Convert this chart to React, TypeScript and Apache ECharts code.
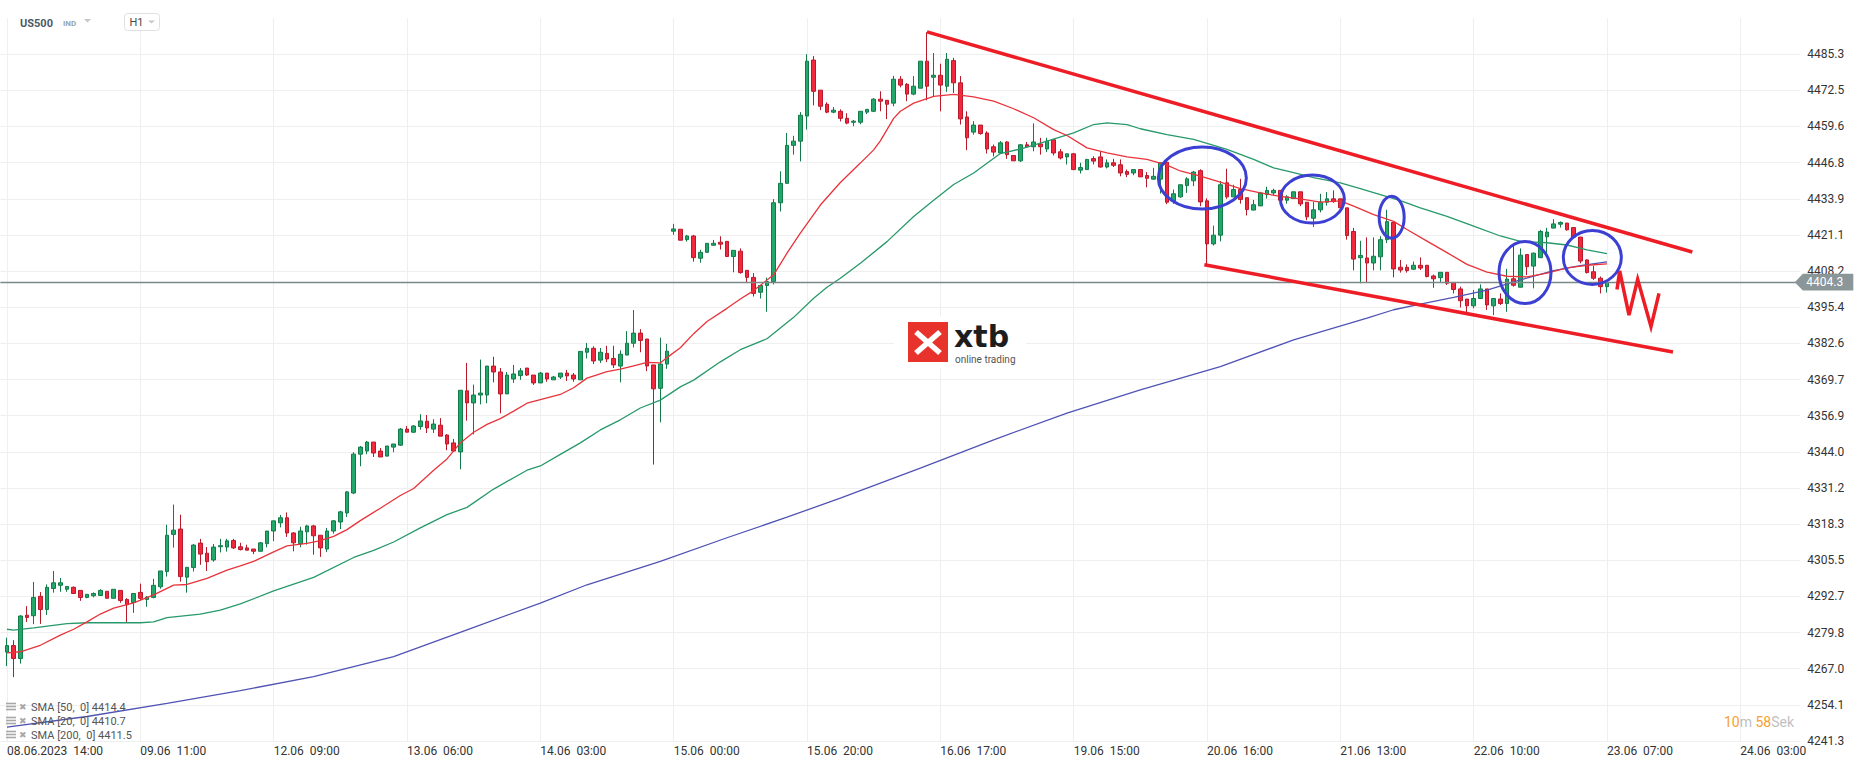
import { useEffect, useRef } from 'react';
import * as echarts from 'echarts';

// ---------- data ----------
const X_LABELS = [
  '08.06.2023  14:00', '09.06  11:00', '12.06  09:00', '13.06  06:00', '14.06  03:00',
  '15.06  00:00', '15.06  20:00', '16.06  17:00', '19.06  15:00', '20.06  16:00',
  '21.06  13:00', '22.06  10:00', '23.06  07:00', '24.06  03:00',
];
const LABEL_EVERY = 20; // hourly candles between two time labels
const SLOT_COUNT = 270; // hourly slots shown on the axis (candles + future space)

const Y_TICKS = [
  '4241.3', '4254.1', '4267.0', '4279.8', '4292.7', '4305.5', '4318.3', '4331.2', '4344.0', '4356.9',
  '4369.7', '4382.6', '4395.4', '4408.2', '4421.1', '4433.9', '4446.8', '4459.6', '4472.5', '4485.3',
];
const Y_MIN = 4241.3;
const Y_STEP = (4485.3 - 4241.3) / 19;

// [open, close, low, high]
const CANDLES: number[][] = [
  [4272.9, 4275.2, 4267.9, 4278.0], [4275.2, 4270.6, 4264.0, 4277.1], [4270.6, 4285.7, 4268.8, 4286.0], [4286.0, 4285.2, 4283.6, 4289.2],
  [4285.8, 4292.3, 4282.8, 4297.8], [4292.7, 4288.0, 4282.9, 4294.2], [4288.0, 4295.9, 4286.1, 4296.9], [4295.5, 4297.5, 4294.0, 4301.7],
  [4296.6, 4297.5, 4294.3, 4299.2], [4295.2, 4296.2, 4294.3, 4296.2], [4295.9, 4293.7, 4293.5, 4296.2], [4294.8, 4292.3, 4291.1, 4294.8],
  [4292.3, 4293.4, 4292.0, 4293.4], [4292.9, 4293.7, 4292.3, 4294.1], [4293.0, 4294.8, 4292.8, 4295.2], [4294.5, 4292.0, 4292.0, 4294.5],
  [4292.0, 4295.2, 4292.0, 4295.2], [4294.8, 4291.2, 4290.4, 4294.8], [4291.6, 4289.7, 4283.6, 4292.0], [4290.5, 4293.7, 4286.8, 4293.7],
  [4294.1, 4292.0, 4291.4, 4297.2], [4291.6, 4292.4, 4289.0, 4292.8], [4292.3, 4296.6, 4292.0, 4298.9], [4296.1, 4301.7, 4295.4, 4301.7],
  [4301.5, 4314.4, 4299.7, 4318.1], [4314.7, 4316.2, 4310.0, 4325.3], [4316.6, 4299.7, 4297.9, 4321.7], [4299.5, 4303.0, 4294.0, 4303.0],
  [4302.9, 4310.9, 4301.5, 4311.3], [4311.6, 4307.7, 4303.9, 4313.1], [4308.0, 4305.0, 4301.7, 4310.2], [4305.6, 4310.2, 4305.0, 4311.3],
  [4310.3, 4310.7, 4308.3, 4313.1], [4310.2, 4312.4, 4308.6, 4313.1], [4312.5, 4309.9, 4309.5, 4313.1], [4310.3, 4309.3, 4309.0, 4311.7],
  [4309.9, 4309.1, 4309.0, 4311.0], [4309.5, 4308.7, 4307.7, 4309.5], [4308.7, 4311.7, 4308.7, 4312.0], [4311.4, 4315.9, 4310.1, 4315.9],
  [4315.9, 4319.5, 4312.3, 4319.5], [4318.8, 4320.6, 4317.2, 4321.6], [4320.6, 4315.2, 4313.8, 4322.5], [4315.2, 4311.7, 4308.7, 4315.5],
  [4311.4, 4315.9, 4310.1, 4317.4], [4315.6, 4317.7, 4311.1, 4318.1], [4317.7, 4314.2, 4307.5, 4318.1], [4314.4, 4309.9, 4306.7, 4314.4],
  [4309.5, 4315.9, 4308.4, 4317.0], [4315.9, 4319.5, 4315.0, 4319.8], [4319.1, 4322.7, 4316.6, 4323.1], [4322.3, 4329.8, 4320.9, 4330.1],
  [4329.4, 4343.2, 4329.0, 4343.9], [4343.2, 4345.7, 4338.9, 4346.1], [4344.3, 4347.5, 4343.2, 4347.9], [4347.5, 4343.6, 4342.2, 4347.5],
  [4344.3, 4342.2, 4342.2, 4345.4], [4342.5, 4346.1, 4342.5, 4346.1], [4345.7, 4346.8, 4343.9, 4346.8], [4346.4, 4352.1, 4346.1, 4352.5],
  [4352.1, 4351.0, 4351.0, 4353.2], [4351.0, 4353.2, 4350.7, 4353.5], [4353.0, 4355.0, 4351.9, 4357.4], [4354.9, 4352.5, 4350.7, 4357.1],
  [4352.1, 4353.9, 4350.7, 4355.6], [4353.5, 4349.6, 4349.6, 4356.0], [4350.0, 4346.8, 4344.6, 4350.3], [4347.2, 4344.3, 4344.0, 4348.6],
  [4344.0, 4365.9, 4337.8, 4365.9], [4365.7, 4361.4, 4355.1, 4375.6], [4361.4, 4364.2, 4350.2, 4367.9], [4364.2, 4364.9, 4360.9, 4376.8],
  [4364.2, 4374.5, 4361.3, 4374.5], [4374.5, 4372.4, 4368.7, 4377.8], [4372.4, 4364.6, 4357.7, 4373.8], [4364.6, 4371.3, 4364.6, 4372.4],
  [4369.9, 4371.7, 4368.5, 4374.9], [4371.1, 4372.8, 4369.6, 4373.8], [4373.8, 4371.3, 4371.0, 4373.8], [4371.3, 4368.5, 4367.8, 4371.3],
  [4368.5, 4372.0, 4368.5, 4372.4], [4372.0, 4369.9, 4368.9, 4372.0], [4369.6, 4370.6, 4369.6, 4371.0], [4370.6, 4372.0, 4369.9, 4372.0],
  [4372.0, 4371.0, 4369.2, 4373.1], [4371.3, 4369.9, 4368.9, 4372.0], [4369.6, 4379.7, 4369.6, 4379.7], [4379.4, 4380.8, 4377.2, 4382.7],
  [4380.8, 4376.3, 4375.2, 4381.5], [4376.6, 4379.4, 4375.6, 4380.9], [4379.0, 4377.0, 4375.9, 4381.7], [4377.2, 4374.9, 4373.8, 4381.7],
  [4374.5, 4378.7, 4368.7, 4380.1], [4378.4, 4382.6, 4378.4, 4386.9], [4382.6, 4386.2, 4381.1, 4394.4], [4386.2, 4383.6, 4379.4, 4387.6],
  [4384.1, 4374.5, 4372.7, 4384.1], [4374.9, 4366.4, 4339.5, 4374.9], [4366.6, 4375.2, 4354.5, 4384.6], [4375.2, 4379.8, 4373.5, 4382.4],
  [4422.4, 4423.2, 4421.1, 4425.0], [4423.1, 4419.2, 4419.2, 4423.1], [4419.4, 4420.7, 4418.7, 4421.1], [4420.7, 4413.0, 4411.6, 4421.1],
  [4412.8, 4414.9, 4411.2, 4415.8], [4414.9, 4418.1, 4414.9, 4418.1], [4417.4, 4418.1, 4417.3, 4419.3], [4418.5, 4417.8, 4415.9, 4420.6],
  [4418.8, 4413.4, 4413.4, 4418.8], [4413.4, 4415.6, 4407.8, 4415.6], [4415.3, 4407.7, 4407.3, 4416.3], [4408.5, 4406.0, 4404.1, 4408.5],
  [4406.0, 4400.3, 4399.2, 4407.5], [4400.7, 4403.1, 4398.5, 4403.1], [4403.1, 4404.5, 4393.8, 4405.9], [4404.5, 4432.5, 4403.5, 4433.8],
  [4432.5, 4439.4, 4429.4, 4443.7], [4439.4, 4452.9, 4439.4, 4457.3], [4452.9, 4454.4, 4449.6, 4456.3], [4454.4, 4463.6, 4447.2, 4464.7],
  [4463.3, 4482.8, 4458.5, 4485.3], [4483.2, 4472.1, 4467.1, 4484.6], [4472.5, 4466.8, 4465.4, 4472.5], [4467.5, 4464.7, 4464.3, 4468.2],
  [4464.7, 4465.4, 4464.3, 4466.5], [4465.0, 4462.5, 4461.4, 4465.7], [4462.5, 4460.8, 4460.4, 4464.3], [4461.1, 4461.5, 4459.7, 4461.9],
  [4461.1, 4465.0, 4460.4, 4465.0], [4464.7, 4465.7, 4464.0, 4465.7], [4465.0, 4469.3, 4464.7, 4469.7], [4469.3, 4468.6, 4465.0, 4472.1],
  [4468.9, 4467.5, 4462.2, 4468.9], [4467.9, 4476.4, 4466.8, 4477.6], [4476.4, 4474.3, 4473.5, 4477.5], [4474.6, 4471.1, 4468.6, 4475.0],
  [4471.1, 4473.9, 4470.7, 4477.5], [4473.2, 4482.8, 4473.2, 4482.8], [4482.8, 4473.9, 4468.9, 4493.1], [4477.1, 4477.8, 4470.4, 4485.7],
  [4477.8, 4474.3, 4465.0, 4481.9], [4473.9, 4483.5, 4471.9, 4485.7], [4483.0, 4475.1, 4471.5, 4484.0], [4475.1, 4462.3, 4460.3, 4477.5],
  [4463.0, 4455.6, 4451.2, 4465.0], [4457.6, 4460.1, 4456.7, 4461.5], [4460.1, 4457.1, 4456.7, 4460.1], [4457.3, 4451.6, 4450.0, 4457.9],
  [4452.4, 4450.5, 4449.0, 4453.2], [4450.2, 4453.8, 4450.0, 4454.4], [4454.1, 4449.6, 4448.1, 4454.4], [4449.3, 4447.4, 4447.4, 4449.3],
  [4447.4, 4453.1, 4447.0, 4453.4], [4453.1, 4452.4, 4452.0, 4454.1], [4452.4, 4454.1, 4450.8, 4460.7], [4453.4, 4452.4, 4449.6, 4455.6],
  [4451.6, 4454.4, 4450.5, 4455.6], [4454.9, 4450.2, 4449.3, 4455.2], [4450.6, 4448.4, 4447.9, 4451.6], [4448.8, 4449.9, 4446.1, 4449.9],
  [4449.9, 4444.3, 4444.1, 4450.2], [4444.1, 4445.0, 4442.9, 4446.7], [4444.3, 4447.9, 4444.3, 4447.9], [4448.2, 4447.3, 4446.1, 4449.0],
  [4448.8, 4445.2, 4445.0, 4450.6], [4445.2, 4446.7, 4444.7, 4447.9], [4446.7, 4445.8, 4445.2, 4448.1], [4446.0, 4443.1, 4441.9, 4447.9],
  [4443.6, 4442.6, 4441.6, 4444.3], [4443.1, 4444.3, 4442.3, 4444.3], [4444.3, 4441.7, 4441.7, 4444.3], [4442.2, 4441.2, 4438.0, 4443.4],
  [4440.9, 4441.9, 4440.7, 4444.9], [4440.9, 4446.7, 4435.8, 4446.7], [4446.9, 4432.7, 4432.0, 4447.5], [4433.1, 4435.7, 4432.1, 4437.2],
  [4434.6, 4438.9, 4434.3, 4438.9], [4438.6, 4441.0, 4436.0, 4441.6], [4440.3, 4443.4, 4438.4, 4443.8], [4443.9, 4432.8, 4431.3, 4444.4],
  [4433.2, 4417.9, 4410.4, 4434.1], [4417.9, 4421.0, 4417.3, 4424.4], [4421.0, 4438.9, 4418.8, 4440.2], [4439.6, 4434.6, 4433.9, 4444.6],
  [4434.6, 4437.2, 4434.6, 4438.9], [4437.2, 4433.7, 4432.2, 4441.0], [4434.3, 4430.1, 4428.0, 4434.3], [4429.9, 4431.8, 4429.9, 4433.5],
  [4431.4, 4436.0, 4431.4, 4436.4], [4435.4, 4436.9, 4434.0, 4438.2], [4436.0, 4436.9, 4435.1, 4437.5], [4436.9, 4433.4, 4433.4, 4436.9],
  [4433.4, 4434.6, 4432.2, 4435.2], [4434.0, 4436.4, 4433.9, 4436.4], [4436.4, 4432.1, 4431.3, 4436.4], [4432.7, 4427.5, 4426.3, 4432.7],
  [4427.0, 4430.0, 4423.9, 4432.8], [4430.0, 4432.7, 4429.1, 4435.7], [4432.7, 4433.9, 4431.5, 4436.3], [4433.9, 4432.9, 4432.5, 4436.9],
  [4433.9, 4430.7, 4430.7, 4433.9], [4430.7, 4420.9, 4419.4, 4430.7], [4422.3, 4412.5, 4408.5, 4423.6], [4413.0, 4413.8, 4403.9, 4419.0],
  [4412.9, 4411.1, 4404.0, 4420.2], [4411.1, 4413.5, 4408.5, 4420.2], [4413.3, 4419.4, 4408.5, 4420.6], [4419.4, 4425.8, 4418.2, 4430.0],
  [4425.5, 4409.0, 4406.0, 4425.7], [4409.6, 4408.6, 4407.7, 4412.2], [4409.6, 4408.4, 4407.7, 4410.6], [4408.9, 4410.3, 4408.6, 4411.6],
  [4410.3, 4409.3, 4408.6, 4413.1], [4410.3, 4406.3, 4406.0, 4410.3], [4406.5, 4405.5, 4402.3, 4407.0], [4405.9, 4407.8, 4404.1, 4407.8],
  [4407.8, 4403.9, 4403.3, 4407.8], [4404.2, 4401.7, 4400.3, 4404.2], [4401.9, 4397.7, 4395.3, 4402.7], [4398.3, 4395.9, 4393.5, 4398.3],
  [4395.9, 4398.5, 4395.0, 4401.5], [4398.5, 4401.9, 4398.3, 4403.5], [4401.9, 4396.2, 4394.4, 4401.9], [4395.9, 4398.5, 4392.6, 4398.5],
  [4398.3, 4396.7, 4396.2, 4400.3], [4396.7, 4405.4, 4393.8, 4409.0], [4405.5, 4403.2, 4402.7, 4418.1], [4402.5, 4413.9, 4402.5, 4416.3],
  [4414.1, 4409.8, 4406.8, 4414.1], [4410.0, 4414.6, 4402.1, 4414.8], [4413.0, 4422.3, 4413.0, 4422.9], [4420.4, 4422.1, 4413.4, 4423.6],
  [4423.5, 4425.0, 4423.5, 4426.7], [4424.9, 4425.5, 4423.7, 4425.9], [4425.3, 4422.9, 4422.6, 4425.3], [4423.7, 4420.3, 4419.9, 4423.7],
  [4420.3, 4411.8, 4411.0, 4420.3], [4412.2, 4407.7, 4407.4, 4412.4], [4408.0, 4405.7, 4405.1, 4410.1], [4405.7, 4402.7, 4400.3, 4406.3],
  [4402.7, 4404.3, 4400.6, 4405.0],
];

// moving averages: [candle index, value]
const SMA20: number[][] = [
  [0, 4272.6], [2, 4273.0], [5, 4275.3], [8, 4278.9], [10, 4281.0], [12, 4283.6], [14, 4286.4], [16, 4288.5], [19, 4290.4],
  [22, 4293.2], [25, 4296.7], [27, 4296.9], [30, 4299.1], [33, 4302.0], [35, 4303.5], [37, 4305.1], [40, 4308.5], [42, 4310.6],
  [45, 4311.5], [47, 4312.5], [49, 4314.0], [51, 4316.4], [53, 4319.6], [56, 4324.0], [59, 4328.5], [61, 4331.0], [64, 4337.5],
  [66, 4341.5], [68, 4347.2], [70, 4351.0], [72, 4353.8], [74, 4355.8], [76, 4358.5], [78, 4361.3], [80, 4362.6], [83, 4364.4],
  [85, 4366.8], [87, 4370.2], [90, 4372.5], [92, 4373.4], [94, 4374.6], [96, 4375.8], [98, 4375.6], [99, 4377.5], [101, 4381.0],
  [103, 4386.0], [105, 4390.3], [108, 4395.0], [110, 4398.3], [112, 4401.3], [115, 4406.9], [117, 4414.6], [119, 4421.7],
  [122, 4431.7], [125, 4439.7], [128, 4446.6], [130, 4451.3], [131, 4454.5], [132, 4458.5], [133, 4462.5], [134, 4465.0],
  [136, 4467.9], [139, 4470.3], [142, 4471.0], [145, 4470.1], [148, 4468.6], [151, 4465.9], [154, 4462.7], [157, 4458.5],
  [159, 4456.4], [162, 4452.0], [165, 4450.2], [168, 4448.8], [171, 4447.9], [174, 4445.9], [176, 4443.8], [179, 4442.0],
  [182, 4439.8], [185, 4437.5], [188, 4436.0], [191, 4434.8], [194, 4433.9], [197, 4432.7], [200, 4433.2], [202, 4431.3],
  [205, 4428.3], [208, 4425.9], [210, 4423.0], [213, 4418.9], [216, 4414.8], [219, 4410.6], [222, 4407.9], [225, 4406.4],
  [228, 4406.2], [231, 4407.5], [234, 4409.4], [237, 4410.3], [240, 4410.8],
];
const SMA50: number[][] = [
  [0, 4281.0], [1, 4280.7], [4, 4281.5], [9, 4283.0], [12, 4283.3], [20, 4283.3], [22, 4283.6], [24, 4285.1], [29, 4286.4],
  [32, 4287.8], [35, 4290.0], [40, 4294.6], [46, 4299.4], [52, 4306.5], [55, 4309.0], [58, 4312.0], [62, 4317.0], [66, 4321.7],
  [69, 4324.3], [73, 4330.8], [78, 4337.5], [80, 4339.0], [83, 4343.1], [86, 4347.2], [89, 4351.8], [92, 4355.4], [95, 4359.6],
  [98, 4362.4], [101, 4367.1], [103, 4369.5], [107, 4376.0], [110, 4380.3], [114, 4384.2], [116, 4388.0], [118, 4391.8],
  [121, 4398.6], [123, 4402.5], [125, 4405.7], [128, 4411.0], [132, 4418.7], [136, 4427.6], [139, 4433.4], [142, 4439.0],
  [145, 4443.1], [149, 4450.0], [152, 4451.6], [156, 4454.4], [160, 4457.3], [163, 4460.3], [165, 4460.9], [168, 4460.3],
  [170, 4458.8], [174, 4456.7], [178, 4455.0], [183, 4451.5], [187, 4447.9], [190, 4444.9], [193, 4443.2], [196, 4441.4],
  [200, 4439.6], [203, 4437.5], [206, 4435.4], [209, 4433.3], [212, 4430.7], [216, 4427.7], [220, 4424.2], [224, 4420.7],
  [227, 4418.8], [231, 4418.3], [234, 4417.5], [237, 4415.8], [240, 4414.4],
];
const SMA200: number[][] = [
  [0, 4246.2], [12, 4250.0], [24, 4254.7], [35, 4259.2], [46, 4264.2], [58, 4271.3], [69, 4280.8], [80, 4290.3], [87, 4296.8],
  [98, 4305.1], [108, 4313.5], [117, 4320.8], [125, 4327.6], [137, 4338.2], [148, 4348.3], [159, 4357.8], [170, 4366.0],
  [182, 4374.3], [193, 4383.8], [204, 4391.5], [208, 4394.5], [212, 4396.5], [217, 4398.9], [222, 4401.5], [227, 4405.1],
  [232, 4408.4], [236, 4410.2], [240, 4411.5],
];
const LAST_PRICE = 4404.3;
const LEGEND_ROWS = [
  ['SMA [50,  0]', '4414.4'],
  ['SMA [20,  0]', '4410.7'],
  ['SMA [200,  0]', '4411.5'],
];

// hand-drawn annotations, in [candle index, price]
const UPPER_TREND = [[138.0, 4493.2], [252.8, 4415.0]];
const LOWER_TREND = [[179.6, 4410.5], [249.9, 4379.5]];
const W_PATH = [[241.5, 4401.7], [241.9, 4408.3], [243.3, 4392.6], [244.6, 4405.3], [246.6, 4388.5], [247.8, 4400.3]];
const CIRCLES = [[179.3, 4441.3], [195.8, 4433.8], [207.7, 4427.4], [227.7, 4407.7], [237.8, 4413.1]];
const CIRCLE_RADII = [[44, 31], [32, 24], [12.5, 21], [26, 31], [29, 27]];

// ---------- styles ----------
const FONT = 'Roboto';
const GREEN = '#22a86b';
const GREEN_DARK = '#137a4a';
const RED = '#f2293c';
const RED_DARK = '#b8192b';
const GRID_COLOR = '#efefef';
const W = 1866;
const H = 767;

export default function App() {
  const ref = useRef<HTMLDivElement>(null);

  useEffect(() => {
    document.body.style.margin = '0';
    const chart = echarts.init(ref.current!, undefined, { renderer: 'svg' });
    const cats = Array.from({ length: SLOT_COUNT + 1 }, (_, i) => String(i));
    const isLabelCat = (i: number) =>
      i >= 1 && (i - 1) % LABEL_EVERY === 0 && (i - 1) / LABEL_EVERY < X_LABELS.length;
    const ySplitColors = Y_TICKS.map(() => GRID_COLOR).concat(['rgba(0,0,0,0)']);
    const toCat = (arr: number[][]) => arr.map(([i, v]) => [i + 1, v]);

    chart.setOption({
      animation: false,
      backgroundColor: '#ffffff',
      textStyle: { fontFamily: FONT },
      grid: { left: 1 / 3, right: 65 + 2 / 3, top: 18, bottom: 26 },
      xAxis: [
        {
          type: 'category',
          data: cats,
          boundaryGap: false,
          axisLine: { show: false },
          axisTick: { show: false },
          axisLabel: {
            interval: (i: number) => isLabelCat(i),
            formatter: (v: string) => {
              const i = Number(v);
              return isLabelCat(i) ? X_LABELS[(i - 1) / LABEL_EVERY] : '';
            },
            align: 'left',
            margin: 4,
            fontSize: 12,
            color: '#333333',
            fontFamily: FONT,
          },
          splitLine: {
            show: true,
            interval: (i: number) => isLabelCat(i),
            lineStyle: { color: GRID_COLOR, width: 1 },
          },
        },
      ],
      yAxis: [
        { type: 'value', min: Y_MIN, max: Y_MIN + 20 * Y_STEP, show: false },
        {
          type: 'value',
          min: 0,
          max: 20,
          interval: 1,
          position: 'right',
          axisLine: { show: false },
          axisTick: { show: false },
          axisLabel: {
            formatter: (v: number) => Y_TICKS[Math.round(v)] ?? '',
            margin: 7,
            fontSize: 12,
            color: '#333333',
            fontFamily: FONT,
          },
          splitLine: { show: true, lineStyle: { color: ySplitColors, width: 1 } },
        },
      ],
      series: [
        {
          type: 'candlestick',
          xAxisIndex: 0,
          yAxisIndex: 0,
          data: CANDLES.map((c, i) => [i + 1, c[0], c[1], c[2], c[3]]),
          encode: { x: 0, y: [1, 2, 3, 4] },
          barWidth: 4.2,
          clip: false,
          itemStyle: {
            color: GREEN,
            color0: RED,
            borderColor: GREEN_DARK,
            borderColor0: RED_DARK,
            borderWidth: 1,
          },
          markLine: {
            silent: true,
            symbol: ['none', 'none'],
            label: { show: false },
            lineStyle: { color: '#7b8789', width: 1.3, type: 'solid' },
            data: [{ yAxis: LAST_PRICE }],
          },
        },
        {
          type: 'line', data: toCat(SMA200), showSymbol: false, symbol: 'none', silent: true,
          lineStyle: { color: '#4f53b3', width: 1.3 }, itemStyle: { color: '#4f53b3' },
        },
        {
          type: 'line', data: toCat(SMA50), showSymbol: false, symbol: 'none', silent: true,
          lineStyle: { color: '#27996a', width: 1.3 }, itemStyle: { color: '#27996a' },
        },
        {
          type: 'line', data: toCat(SMA20), showSymbol: false, symbol: 'none', silent: true,
          lineStyle: { color: '#e8333b', width: 1.3 }, itemStyle: { color: '#e8333b' },
        },
      ],
    });

    // pixel helpers derived from the chart's own axes
    const x0 = chart.convertToPixel({ xAxisIndex: 0 }, 1) as number;
    const x1 = chart.convertToPixel({ xAxisIndex: 0 }, 2) as number;
    const slot = x1 - x0;
    const px = (idx: number, price: number): [number, number] => [
      x0 + idx * slot,
      chart.convertToPixel({ yAxisIndex: 0 }, price) as number,
    ];
    const gridRight = chart.convertToPixel({ xAxisIndex: 0 }, SLOT_COUNT) as number;
    const priceY = px(0, LAST_PRICE)[1];

    const TREND_RED = '#ee1c25';
    const ELLIPSE_BLUE = '#3b40d2';
    const els: any[] = [];
    [UPPER_TREND, LOWER_TREND].forEach((ln) => {
      const a = px(ln[0][0], ln[0][1]);
      const b = px(ln[1][0], ln[1][1]);
      els.push({
        type: 'line', z: 100, shape: { x1: a[0], y1: a[1], x2: b[0], y2: b[1] },
        style: { stroke: TREND_RED, lineWidth: 3.5 },
      });
    });
    els.push({
      type: 'polyline', z: 100,
      shape: { points: W_PATH.map(([i, p]) => px(i, p)) },
      style: { stroke: TREND_RED, lineWidth: 3.5, fill: 'none', lineJoin: 'miter' },
    });
    CIRCLES.forEach(([i, p], k) => {
      const c = px(i, p);
      els.push({
        type: 'ellipse', z: 100,
        shape: { cx: c[0], cy: c[1], rx: CIRCLE_RADII[k][0], ry: CIRCLE_RADII[k][1] },
        style: { stroke: ELLIPSE_BLUE, lineWidth: 3, fill: 'none' },
      });
    });

    // last price tag
    els.push({
      type: 'polygon', z: 110,
      shape: {
        points: [
          [gridRight - 5.5, priceY], [gridRight + 2.5, priceY - 8.3], [gridRight + 53, priceY - 8.3],
          [gridRight + 53, priceY + 8.3], [gridRight + 2.5, priceY + 8.3],
        ],
      },
      style: { fill: '#8b9698' },
    });
    els.push({
      type: 'text', z: 111, x: gridRight + 6, y: priceY,
      style: { text: LAST_PRICE.toFixed(1), fill: '#ffffff', fontSize: 12, fontFamily: FONT, align: 'left', verticalAlign: 'middle' },
    });

    // xtb logo
    els.push({ type: 'rect', z: 90, shape: { x: 894, y: 316, width: 132, height: 52 }, style: { fill: '#ffffff' } });
    els.push({ type: 'rect', z: 91, shape: { x: 908, y: 322, width: 40, height: 40 }, style: { fill: '#e8322c' } });
    els.push({ type: 'line', z: 92, shape: { x1: 916, y1: 332, x2: 940, y2: 353 }, style: { stroke: '#ffffff', lineWidth: 5.5 } });
    els.push({ type: 'line', z: 92, shape: { x1: 940, y1: 332, x2: 916, y2: 353 }, style: { stroke: '#ffffff', lineWidth: 5.5 } });
    els.push({
      type: 'text', z: 92, x: 954, y: 336,
      style: {
        text: 'xtb', fill: '#1d1d1d', fontSize: 30, lineHeight: 20, fontWeight: 'bold', fontFamily: 'DejaVu Sans',
        align: 'left', verticalAlign: 'middle',
      },
    });
    els.push({
      type: 'text', z: 92, x: 955, y: 359.5,
      style: { text: 'online trading', fill: '#555555', fontSize: 10, lineHeight: 10, fontFamily: FONT, align: 'left', verticalAlign: 'middle' },
    });

    // header
    els.push({
      type: 'text', z: 100, x: 20, y: 23,
      style: { text: 'US500', fill: '#4c5a66', fontSize: 11, fontWeight: 'bold', fontFamily: FONT, align: 'left', verticalAlign: 'middle' },
    });
    els.push({
      type: 'text', z: 100, x: 63, y: 23.5,
      style: { text: 'IND', fill: '#94a6b0', fontSize: 8, fontWeight: 'bold', fontFamily: FONT, align: 'left', verticalAlign: 'middle' },
    });
    els.push({ type: 'polygon', z: 100, shape: { points: [[84, 19], [91, 19], [87.5, 22.5]] }, style: { fill: '#c8c8c8' } });
    els.push({
      type: 'rect', z: 100, shape: { x: 124.5, y: 13.5, width: 35, height: 17, r: 3 },
      style: { fill: '#ffffff', stroke: '#e0e0e0', lineWidth: 1 },
    });
    els.push({
      type: 'text', z: 101, x: 129.5, y: 22.5,
      style: { text: 'H1', fill: '#4a4a4a', fontSize: 11, fontFamily: FONT, align: 'left', verticalAlign: 'middle' },
    });
    els.push({ type: 'polygon', z: 101, shape: { points: [[148, 20.5], [155, 20.5], [151.5, 23.5]] }, style: { fill: '#c8c8c8' } });

    // indicator legend (bottom-left)
    LEGEND_ROWS.forEach(([name, val], k) => {
      const cy = 706.5 + k * 14;
      [-3, 0, 3].forEach((dy) => {
        els.push({ type: 'rect', z: 100, shape: { x: 6, y: cy + dy - 0.8, width: 10, height: 1.6 }, style: { fill: '#a8a8a8' } });
      });
      els.push({
        type: 'text', z: 100, x: 19, y: cy,
        style: { text: '✖', fill: '#a8a8a8', fontSize: 9, fontFamily: 'DejaVu Sans', align: 'left', verticalAlign: 'middle' },
      });
      els.push({
        type: 'text', z: 100, x: 31, y: cy + 0.5,
        style: { text: `${name} ${val}`, fill: '#555555', fontSize: 11, fontFamily: FONT, align: 'left', verticalAlign: 'middle' },
      });
    });

    // candle countdown
    els.push({
      type: 'text', z: 100, x: 1724, y: 722,
      style: {
        text: '{o|10}{g|m} {o|58}{g|Sek}',
        fontSize: 14, fontFamily: FONT, align: 'left', verticalAlign: 'middle',
        rich: {
          o: { fill: '#f6a02e', fontSize: 14, fontFamily: FONT },
          g: { fill: '#bfbfbf', fontSize: 14, fontFamily: FONT },
        },
      },
    });

    chart.setOption({ graphic: { elements: els } });

    return () => chart.dispose();
  }, []);

  return <div ref={ref} style={{ position: 'fixed', left: 0, top: 0, width: W, height: H }} />;
}
